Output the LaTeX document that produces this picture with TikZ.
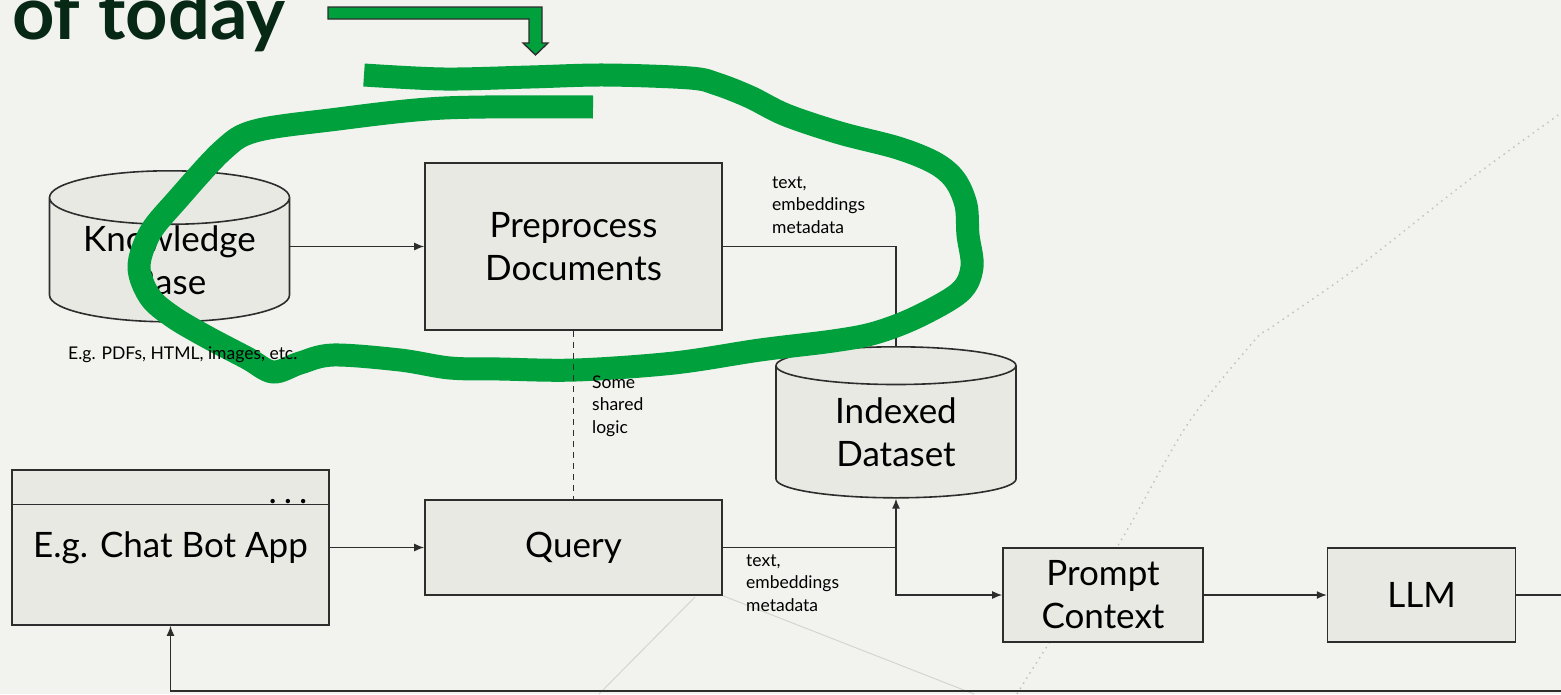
\documentclass[tikz,border=0pt]{standalone}
\usepackage{fontspec}
\setmainfont{Lato}
\usepackage{tikz}
\usetikzlibrary{
  shapes.geometric,
  arrows.meta,
  positioning,
  calc
}
\definecolor{slidebg}{RGB}{242,242,238}
\definecolor{boxfill}{RGB}{233,233,228}
\definecolor{edgegray}{RGB}{45,45,45}
\definecolor{markgreen}{RGB}{0,160,60}
\definecolor{titlegreen}{RGB}{6,40,20}
\definecolor{faintgray}{RGB}{212,212,208}
\newcommand{\bigtxt}{\fontsize{35}{43}\selectfont}
\newcommand{\smalltxt}{\fontsize{17.5}{22.5}\selectfont}

\begin{document}
\begin{tikzpicture}[x=1pt, y=-1pt,
  block/.style={draw=edgegray, fill=boxfill, line width=1.6pt, inner sep=0pt, align=center, font=\bigtxt},
  db/.style={cylinder, shape border rotate=90, aspect=0.31, draw=edgegray, fill=boxfill, line width=1.6pt, minimum width=240pt, minimum height=151pt, inner sep=0pt, align=center, font=\bigtxt},
  note/.style={align=left, inner sep=0pt, font=\smalltxt},
  ptr/.style={-{Latex[length=10pt,width=8pt]}, line width=1.4pt, draw=edgegray},
  link/.style={line width=1.4pt, draw=edgegray},
  scribble/.style={draw=markgreen, line width=23pt, line cap=butt, line join=round}
]
  \useasboundingbox (0,0) rectangle (1561,694);
  \fill[slidebg] (0,0) rectangle (1561,694);

  % faint guide lines in the back
  \draw[faintgray, line width=1pt] (695,597) -- (599,694);
  \draw[faintgray, line width=1pt] (721,595) -- (974,694);
  \draw[faintgray!80!gray, line width=1.5pt, dash pattern=on 1.5pt off 4.5pt]
    plot[smooth] coordinates {(1017,694) (1050,642) (1117,547) (1187,425) (1254,341) (1272,327) (1358,267) (1465,183) (1561,113)};

  % nodes
  \node[db, anchor=north] (kb) at (169.5,170) {Knowledge\\Base};
  \node[block, minimum width=297pt, minimum height=167pt] (pre) at (573.5,246.5) {Preprocess\\Documents};
  \node[db, anchor=north] (idx) at (896,346) {Indexed\\Dataset};
  \node[block, minimum width=317pt, minimum height=155pt] (chat) at (170.5,547.5) {E.g. Chat Bot App};
  \node[block, minimum width=297pt, minimum height=95pt] (qry) at (573.5,547.5) {Query};
  \node[block, minimum width=200pt, minimum height=94pt] (ctx) at (1103,595) {Prompt\\Context};
  \node[block, minimum width=188pt, minimum height=94pt, right=123pt of ctx] (llm) {LLM};

  % app window header
  \draw[link] ($(chat.north west)+(0,35)$) -- ($(chat.north east)+(0,35)$);
  \node[font=\bigtxt, anchor=base] (dots) at (288,503) {.\hspace{7pt}.\hspace{7pt}.};

  % connectors
  \draw[ptr] (kb.east |- pre.west) -- (pre.west);
  \draw[link] (pre.east) -| (idx.north);
  \draw[ptr] (chat.east) -- (qry.west);
  \coordinate (fork) at (idx.south |- qry.east);
  \draw[link] (qry.east) -- (fork);
  \draw[ptr] (fork) -- (idx.south);
  \draw[ptr] (fork) |- (ctx.west);
  \draw[ptr] (ctx.east) -- (llm.west);
  \draw[ptr] (llm.east) -- ++(60,0) -- ++(0,96) -| (chat.south);

  \node[note, anchor=west] (prenote) at (772,205) {text,\\embeddings\\metadata};
  \node[note, anchor=west] (qrynote) at (746,583) {text,\\embeddings\\metadata};

  % green marker loop
  \draw[scribble] plot[smooth, tension=0.55] coordinates {
    (364,75) (444,79) (530,77) (605,75) (690,78) (717,84) (750,97) (786,115)
    (840,133) (898,148) (935,163) (955,180) (966,205) (968,235) (972,267)
    (960,292) (917,317) (875,333) (833,341) (760,350) (674,363) (576,370)
    (500,369) (450,368) (400,360) (333,355) (300,363) (273,372) (247,358)
    (207,337) (173,317) (150,297) (139,267) (150,233) (177,200) (223,150)
    (255,131) (330,120) (444,108) (593,107)};

  \draw[link, dashed, dash pattern=on 6pt off 5pt] (pre.south) -- (qry.north);
  \node[note, anchor=west] (kbnote) at (68,355) {E.g. PDFs, HTML, images, etc.};
  \node[note, anchor=west] (sharednote) at (592,406) {Some\\shared\\logic};

  % title and pointer
  \node[anchor=base west, inner sep=0pt, font=\fontsize{74}{80}\selectfont\bfseries, text=titlegreen] (title) at (12,39) {of today};
  \draw[fill=markgreen, draw=edgegray, line width=1.3pt]
    (328,7) -- (542,7) -- (542,43) -- (548,43) -- (535.5,55) -- (523,43) -- (529,43) -- (529,19) -- (328,19) -- cycle;
\end{tikzpicture}
\end{document}
